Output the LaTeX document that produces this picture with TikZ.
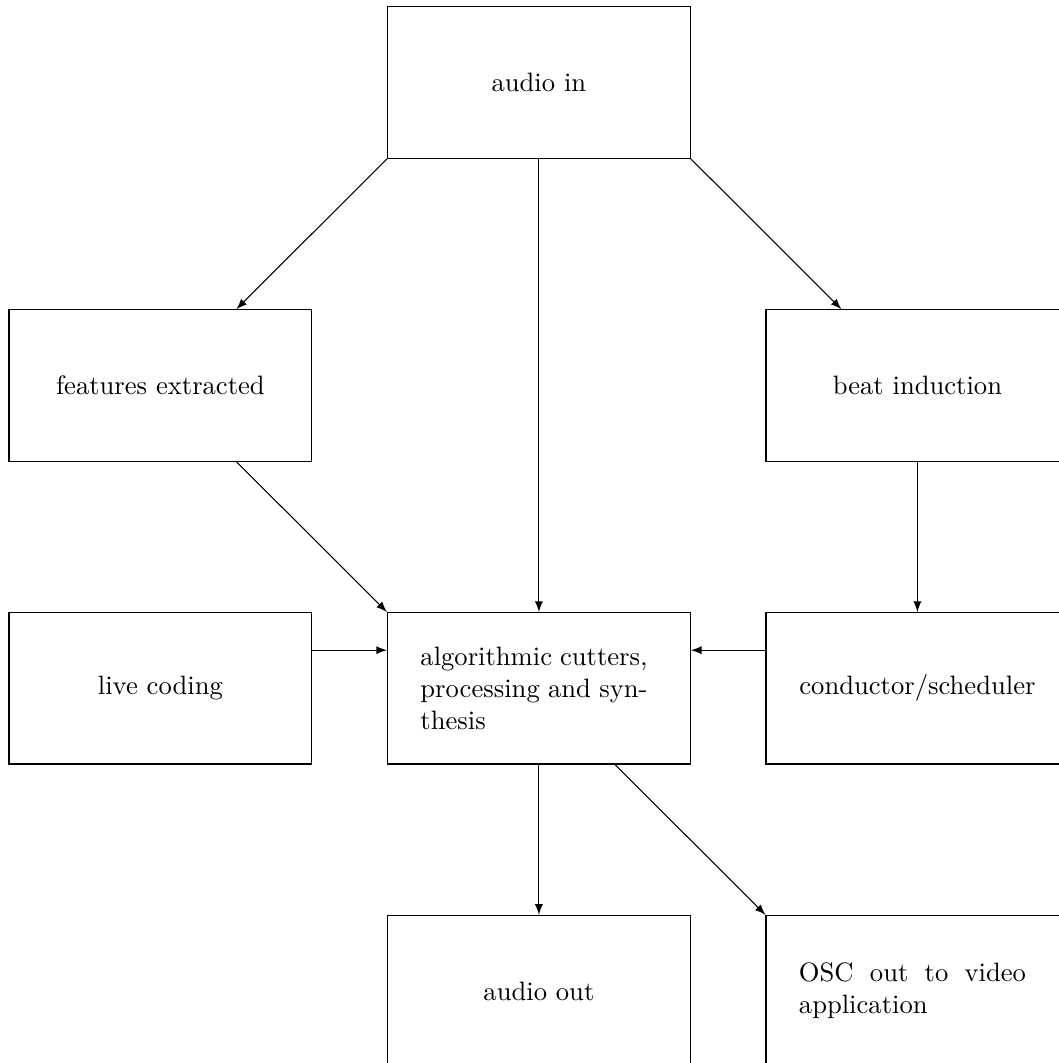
\documentclass[tikz,border=0pt]{standalone}
\usetikzlibrary{arrows,calc}
\begin{document}
\begin{tikzpicture}[
  box/.style={draw, rectangle, minimum width=4cm, minimum height=2cm, inner sep=0pt},
  jtext/.style={text width=3cm, align=justify, inner sep=0pt, xshift=-0.065cm},
  arr/.style={-latex}
]
\useasboundingbox (-2.119,1.092) rectangle (11.87,-12.95);
\node[box] (ain) at (5,0) {audio in};
\node[box] (fe) at (0,-4) {features extracted};
\node[box] (bi) at (10,-4) {beat induction};
\node[box] (lc) at (0,-8) {live coding};
\node[box] (alg) at (5,-8) {};
\node[jtext] (algt) at (alg) {algorithmic cutters, processing and synthesis};
\node[box] (cs) at (10,-8) {conductor/scheduler};
\node[box] (aout) at (5,-12) {audio out};
\node[box] (osc) at (10,-12) {};
\node[jtext] (osct) at (osc) {OSC out to video application};

\draw[arr] (ain.south west) -- ($(fe.north)!0.5!(fe.north east)$);
\draw[arr] (ain.south east) -- ($(bi.north)!0.5!(bi.north west)$);
\draw[arr] (ain.south) -- (alg.north);
\draw[arr] ($(fe.south)!0.5!(fe.south east)$) -- (alg.north west);
\draw[arr] (bi.south) -- (cs.north);
\draw[arr] ($(lc.north east)!0.5!(lc.east)$) -- ($(alg.north west)!0.5!(alg.west)$);
\draw[arr] ($(cs.north west)!0.5!(cs.west)$) -- ($(alg.north east)!0.5!(alg.east)$);
\draw[arr] (alg.south) -- (aout.north);
\draw[arr] ($(alg.south)!0.5!(alg.south east)$) -- (osc.north west);
\end{tikzpicture}
\end{document}
